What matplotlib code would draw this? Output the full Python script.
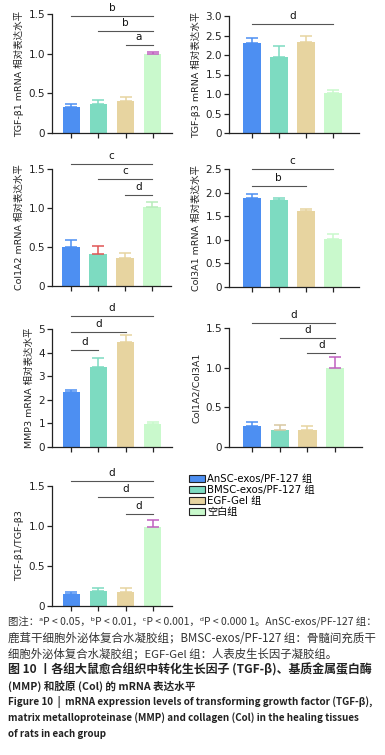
import matplotlib
matplotlib.use("Agg")
import matplotlib.pyplot as plt
from matplotlib.patches import Patch

plt.rcParams['font.family'] = ['DejaVu Sans', 'Noto Sans CJK SC']

groups = ['AnSC-exos/PF-127 组', 'BMSC-exos/PF-127 组', 'EGF-Gel 组', '空白组']
colors = ['#4d8ff2', '#7ddbc1', '#e7d4a0', '#c9f9cc']

tgfb1_mean = [0.33, 0.37, 0.40, 1.00]
tgfb1_err = [0.03, 0.05, 0.06, 0.02]
tgfb3_mean = [2.32, 1.95, 2.33, 1.02]
tgfb3_err = [0.12, 0.28, 0.16, 0.07]
col1a2_mean = [0.50, 0.41, 0.355, 1.01]
col1a2_err = [0.09, 0.10, 0.065, 0.07]
col3a1_mean = [1.89, 1.84, 1.60, 1.01]
col3a1_err = [0.09, 0.05, 0.05, 0.11]
mmp3_mean = [2.35, 3.40, 4.47, 0.99]
mmp3_err = [0.06, 0.37, 0.26, 0.06]
ratio_col_mean = [0.26, 0.22, 0.215, 1.00]
ratio_col_err = [0.05, 0.06, 0.05, 0.14]
ratio_tgf_mean = [0.146, 0.19, 0.18, 0.99]
ratio_tgf_err = [0.03, 0.035, 0.04, 0.08]

# significance: (bar i, bar j, letter)
sig_tgfb1 = [(0, 3, 'b'), (1, 3, 'b'), (2, 3, 'a')]
sig_tgfb3 = [(0, 3, 'd')]
sig_col1a2 = [(0, 3, 'c'), (1, 3, 'c'), (2, 3, 'd')]
sig_col3a1 = [(0, 3, 'c'), (0, 2, 'b')]
sig_mmp3 = [(0, 3, 'd'), (0, 2, 'd'), (0, 1, 'd')]
sig_ratio_col = [(0, 3, 'd'), (1, 3, 'd'), (2, 3, 'd')]
sig_ratio_tgf = [(0, 3, 'd'), (1, 3, 'd'), (2, 3, 'd')]

cap = ['图注：ᵃP < 0.05，ᵇP < 0.01，ᶜP < 0.001，ᵈP < 0.000 1。AnSC-exos/PF-127 组：',
       '鹿茸干细胞外泌体复合水凝胶组；BMSC-exos/PF-127 组：骨髓间充质干',
       '细胞外泌体复合水凝胶组；EGF-Gel 组：人表皮生长因子凝胶组。',
       '图 10 丨各组大鼠愈合组织中转化生长因子 (TGF-β)、基质金属蛋白酶',
       '(MMP) 和胶原 (Col) 的 mRNA 表达水平',
       'Figure 10  |  mRNA expression levels of transforming growth factor (TGF-β),',
       'matrix metalloproteinase (MMP) and collagen (Col) in the healing tissues',
       'of rats in each group']

W, H = 385, 755
fig = plt.figure(figsize=(W / 100, H / 100), dpi=100)


def panel(l, r, ytop, y0, xlim, ymax, ystep, ylabel, mean, err, sig, levels,
          ecolors=None, fmt='{:.1f}'):
    ax = fig.add_axes([l / W, (H - y0) / H, (r - l) / W, (y0 - ytop) / H])
    x = range(len(mean))
    ax.bar(x, mean, width=0.66, color=colors, zorder=2)
    ec = ecolors if ecolors else colors
    for i in x:
        ax.errorbar(i, mean[i], yerr=[[0], [err[i]]], fmt='none', ecolor=ec[i],
                    elinewidth=1.1, capsize=4, capthick=1.1, zorder=3)
    ax.set_xlim(*xlim)
    ax.set_ylim(0, ymax)
    ticks = [k * ystep for k in range(int(round(ymax / ystep)) + 1)]
    ax.set_yticks(ticks)
    ax.set_yticklabels(['0'] + [fmt.format(t) for t in ticks[1:]])
    ax.set_xticks(list(x))
    ax.set_xticklabels([])
    for s in ['top', 'right']:
        ax.spines[s].set_visible(False)
    for s in ['left', 'bottom']:
        ax.spines[s].set_color('#222222')
        ax.spines[s].set_linewidth(0.9)
    ax.tick_params(axis='both', direction='out', length=3.5, width=0.9,
                   colors='#222222', labelsize=7.5, pad=1.5)
    ax.set_ylabel(ylabel, fontsize=6.8, color='#222222', labelpad=3)
    for (i, j, lab), yl in zip(sig, levels):
        ax.plot([i, j], [yl, yl], color='#555555', lw=0.8, clip_on=False)
        ax.text((i + j) / 2, yl + ymax * 0.025, lab, ha='center', va='bottom',
                fontsize=7.5, color='#111111', clip_on=False)
    return ax


LX = (-0.72, 3.72)
RX = (-0.85, 3.98)

panel(52, 172, 14, 133, LX, 1.5, 0.5, 'TGF-β1 mRNA 相对表达水平',
      tgfb1_mean, tgfb1_err, sig_tgfb1, [1.475, 1.285, 1.11],
      ecolors=['#4d8ff2', '#7ddbc1', '#e7d4a0', '#c060c0'])
panel(229, 359, 16, 133, RX, 3.0, 0.5, 'TGF-β3 mRNA 相对表达水平',
      tgfb3_mean, tgfb3_err, sig_tgfb3, [2.79])
panel(52, 171, 169, 286, LX, 1.5, 0.5, 'Col1A2 mRNA 相对表达水平',
      col1a2_mean, col1a2_err, sig_col1a2, [1.56, 1.37, 1.17],
      ecolors=['#4d8ff2', '#e05555', '#e7d4a0', '#b8ecbb'])
panel(229, 359, 169, 287, RX, 2.5, 0.5, 'Col3A1 mRNA 相对表达水平',
      col3a1_mean, col3a1_err, sig_col3a1, [2.5, 2.14])
panel(52, 172, 329, 447, LX, 5, 1, 'MMP3 mRNA 相对表达水平',
      mmp3_mean, mmp3_err, sig_mmp3, [5.55, 4.86, 4.11], fmt='{:.0f}')
panel(229, 362, 328, 447, RX, 1.5, 0.5, 'Col1A2/Col3A1',
      ratio_col_mean, ratio_col_err, sig_ratio_col, [1.56, 1.37, 1.19],
      ecolors=['#4d8ff2', '#d8c8a0', '#e7d4a0', '#c060c0'])
panel(52, 172, 486, 606, LX, 1.5, 0.5, 'TGF-β1/TGF-β3',
      ratio_tgf_mean, ratio_tgf_err, sig_ratio_tgf, [1.56, 1.36, 1.15],
      ecolors=['#4d8ff2', '#7ddbc1', '#e7d4a0', '#c060c0'])

handles = [Patch(facecolor=c, edgecolor='#222222', lw=0.8) for c in colors]
fig.legend(handles, groups, loc='upper left', bbox_to_anchor=(189 / W, 1 - 474 / H),
           frameon=False, fontsize=7.3, handlelength=1.6, handleheight=0.75,
           handletextpad=0.2, labelspacing=0.1, borderpad=0, borderaxespad=0)

# caption: each line is scaled to the width it takes in the reference
bold = [False, False, False, True, True, True, True, True]
right_edge = [375, 375, 335, 375, 195, 375, 363, 107]
renderer = fig.canvas.get_renderer()
for k, (line, b, re) in enumerate(zip(cap, bold, right_edge)):
    t = fig.text(8 / W, 1 - (622 + 16 * k) / H, line, ha='left', va='center',
                 fontsize=7.6, family=['Noto Sans CJK SC', 'DejaVu Sans'],
                 fontweight='bold' if b else 'normal',
                 color='#222222' if b else '#333333')
    w = t.get_window_extent(renderer).width
    t.set_fontsize(min(8.6, 7.6 * (re - 8) / w))

fig.savefig('out.png', dpi=100)
